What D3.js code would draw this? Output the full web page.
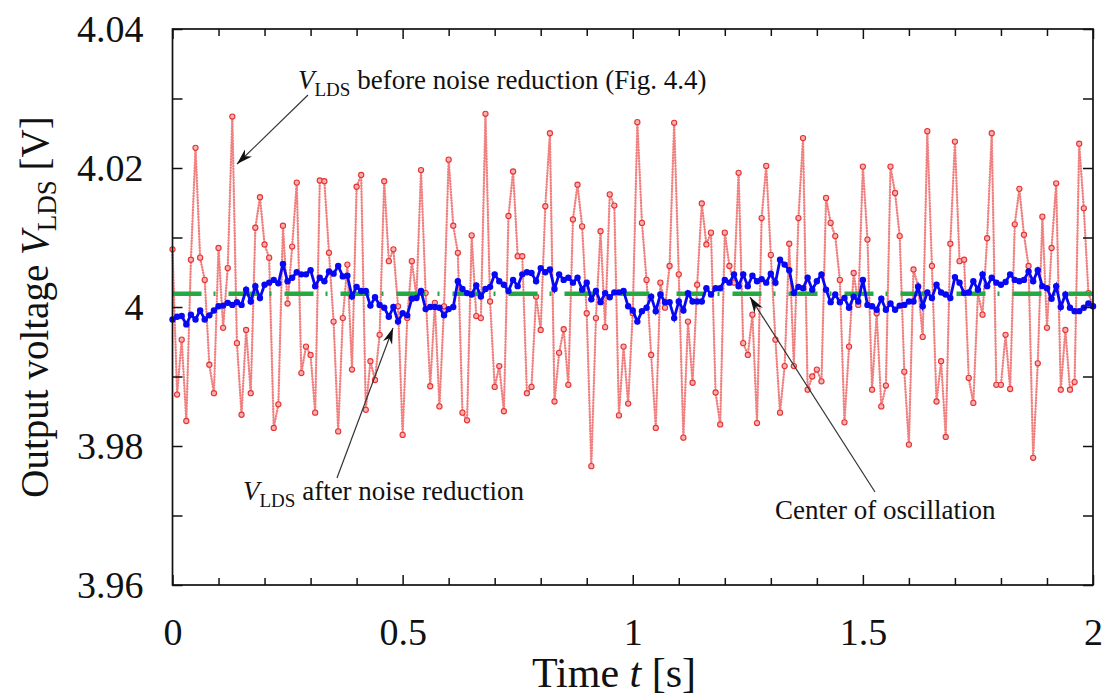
<!DOCTYPE html>
<html lang="en">
<head>
<meta charset="UTF-8">
<title>Output voltage V_LDS</title>
<script src="https://d3js.org/d3.v7.min.js"></script>
<style>
  body { margin: 0; background: #fff; }
  svg text { font-family: "Liberation Serif", "DejaVu Serif", serif; fill: #111; }
</style>
</head>
<body>
<script>
// sample step of both series [s]
const sampleStep = 0.01;

// V_LDS before noise reduction, t = 0.00 .. 2.00 s [V]
const rawVolts = [
  4.0083, 3.9874, 3.9953, 3.9836, 4.0068, 4.0229, 4.0071, 4.0039, 3.9917, 3.9876,
  4.0085, 3.9970, 4.0056, 4.0274, 3.9948, 3.9845, 3.9967, 3.9876, 4.0114, 4.0158,
  4.0090, 4.0071, 3.9826, 3.9860, 4.0117, 4.0005, 4.0087, 4.0179, 3.9905, 3.9943,
  3.9931, 3.9848, 4.0182, 4.0181, 4.0078, 3.9979, 3.9821, 3.9984, 4.0061, 3.9910,
  4.0173, 4.0190, 3.9852, 3.9922, 3.9895, 3.9960, 4.0181, 4.0066, 4.0083, 4.0001,
  3.9816, 3.9984, 4.0066, 4.0015, 4.0197, 4.0020, 3.9886, 4.0006, 3.9857, 4.0001,
  4.0212, 4.0117, 4.0078, 3.9848, 3.9837, 4.0103, 3.9987, 3.9984, 4.0278, 4.0008,
  3.9885, 3.9915, 3.9850, 4.0131, 4.0195, 4.0073, 4.0073, 3.9876, 3.9885, 4.0015,
  3.9967, 4.0145, 4.0250, 3.9864, 3.9934, 3.9968, 3.9888, 4.0126, 4.0176, 4.0116,
  3.9991, 3.9771, 3.9984, 4.0109, 3.9971, 4.0162, 4.0146, 3.9844, 3.9943, 3.9861,
  3.9991, 4.0266, 4.0121, 4.0039, 3.9931, 3.9826, 4.0035, 3.9999, 4.0059, 4.0265,
  4.0047, 3.9812, 3.9979, 3.9891, 4.0032, 4.0149, 4.0090, 4.0107, 3.9877, 3.9831,
  4.0107, 4.0059, 4.0035, 4.0193, 3.9948, 3.9931, 3.9989, 3.9833, 4.0128, 4.0203,
  4.0075, 3.9953, 3.9848, 3.9915, 4.0091, 3.9915, 4.0128, 4.0243, 3.9881, 3.9900,
  3.9910, 3.9893, 4.0157, 4.0121, 4.0102, 4.0039, 3.9834, 3.9943, 4.0049, 4.0003,
  4.0202, 4.0097, 3.9881, 3.9991, 3.9857, 3.9887, 4.0202, 4.0164, 4.0102, 3.9907,
  3.9802, 4.0054, 4.0030, 3.9957, 4.0253, 4.0059, 3.9864, 3.9922, 3.9813, 4.0091,
  4.0238, 4.0066, 4.0068, 3.9898, 3.9862, 4.0020, 3.9989, 4.0099, 4.0250, 3.9888,
  3.9888, 3.9960, 3.9882, 4.0119, 4.0170, 4.0104, 4.0059, 3.9783, 3.9919, 4.0130,
  3.9970, 4.0085, 4.0178, 3.9881, 3.9967, 3.9881, 3.9892, 4.0235, 4.0142, 4.0020,
  4.0001
];

// V_LDS after noise reduction, t = 0.00 .. 2.00 s [V]
const filteredVolts = [
  3.9982, 3.9986, 3.9987, 3.9975, 3.9989, 3.9982, 3.9995, 3.9982, 3.9988, 3.9995,
  4.0001, 4.0002, 4.0006, 4.0003, 4.0007, 4.0003, 4.0025, 4.0008, 4.0030, 4.0013,
  4.0032, 4.0035, 4.0039, 4.0034, 4.0062, 4.0037, 4.0042, 4.0050, 4.0047, 4.0047,
  4.0053, 4.0030, 4.0042, 4.0037, 4.0051, 4.0048, 4.0059, 4.0044, 4.0045, 4.0015,
  4.0029, 4.0023, 4.0023, 4.0002, 4.0014, 4.0003, 3.9999, 3.9986, 4.0000, 3.9979,
  3.9991, 3.9988, 4.0012, 4.0013, 4.0023, 3.9997, 4.0000, 4.0000, 3.9999, 3.9988,
  3.9997, 4.0000, 4.0037, 4.0026, 4.0020, 4.0018, 4.0031, 4.0015, 4.0026, 4.0029,
  4.0047, 4.0037, 4.0032, 4.0023, 4.0039, 4.0030, 4.0047, 4.0050, 4.0049, 4.0037,
  4.0056, 4.0050, 4.0054, 4.0026, 4.0047, 4.0039, 4.0042, 4.0035, 4.0042, 4.0025,
  4.0035, 4.0011, 4.0023, 4.0007, 4.0020, 4.0014, 4.0021, 4.0021, 4.0023, 4.0001,
  3.9995, 3.9979, 3.9994, 3.9999, 4.0015, 3.9994, 4.0018, 4.0007, 4.0007, 3.9984,
  4.0008, 3.9995, 4.0020, 4.0008, 4.0008, 4.0008, 4.0027, 4.0018, 4.0027, 4.0027,
  4.0039, 4.0035, 4.0047, 4.0030, 4.0047, 4.0030, 4.0045, 4.0037, 4.0040, 4.0035,
  4.0048, 4.0035, 4.0068, 4.0061, 4.0053, 4.0020, 4.0029, 4.0027, 4.0042, 4.0025,
  4.0037, 4.0047, 4.0025, 4.0007, 4.0018, 4.0007, 4.0013, 3.9999, 4.0015, 4.0008,
  4.0039, 4.0003, 4.0001, 3.9996, 4.0012, 3.9996, 4.0005, 3.9996, 4.0002, 4.0003,
  4.0008, 4.0008, 4.0029, 4.0001, 4.0021, 4.0013, 4.0032, 4.0021, 4.0018, 4.0013,
  4.0043, 4.0035, 4.0020, 4.0021, 4.0037, 4.0025, 4.0047, 4.0030, 4.0042, 4.0035,
  4.0032, 4.0036, 4.0047, 4.0039, 4.0037, 4.0039, 4.0051, 4.0037, 4.0053, 4.0030,
  4.0027, 4.0012, 4.0030, 4.0000, 4.0018, 3.9999, 3.9994, 3.9994, 3.9999, 4.0005,
  4.0001
];

// center of oscillation [V]
const centerVolt = 4.0019;

const timeTicks = [0, 0.5, 1, 1.5, 2];
const timeTickLabels = ["0", "0.5", "1", "1.5", "2"];
const timeMinorTicks = [0.1, 0.2, 0.3, 0.4, 0.6, 0.7, 0.8, 0.9, 1.1, 1.2, 1.3, 1.4, 1.6, 1.7, 1.8, 1.9];
const voltTicks = [3.96, 3.98, 4.00, 4.02, 4.04];
const voltTickLabels = ["3.96", "3.98", "4", "4.02", "4.04"];
const voltMinorTicks = [3.97, 3.99, 4.01, 4.03];

const width = 1104, height = 700;
const plotLeft = 172.5, plotRight = 1093, plotTop = 29, plotBottom = 585;

const svg = d3.select("body").append("svg")
  .attr("width", width)
  .attr("height", height);

const x = d3.scaleLinear().domain([0, 2]).range([plotLeft, plotRight]);
const y = d3.scaleLinear().domain([3.96, 4.04]).range([plotBottom, plotTop]);

const rawData = rawVolts.map((v, i) => ({ t: i * sampleStep, v: v }));
const filtData = filteredVolts.map((v, i) => ({ t: i * sampleStep, v: v }));

svg.append("defs").append("marker")
  .attr("id", "arrow")
  .attr("viewBox", "0 0 16 10")
  .attr("refX", 16).attr("refY", 5)
  .attr("markerWidth", 16).attr("markerHeight", 10)
  .attr("markerUnits", "userSpaceOnUse")
  .attr("orient", "auto")
  .append("path")
  .attr("d", "M0,0 L16,5 L0,10 L5,5 Z")
  .attr("fill", "#111");

const line = d3.line().x(d => x(d.t)).y(d => y(d.v));

// before noise reduction: dotted pink line + small red circles
svg.append("path")
  .datum(rawData)
  .attr("d", line)
  .attr("fill", "none")
  .attr("stroke", "#f5a5a5")
  .attr("stroke-width", 1);
svg.append("path")
  .datum(rawData)
  .attr("d", line)
  .attr("fill", "none")
  .attr("stroke", "#f07f7f")
  .attr("stroke-width", 2.4)
  .attr("stroke-linecap", "round")
  .attr("stroke-dasharray", "0.2,2.6");

svg.selectAll(".rawpt")
  .data(rawData)
  .enter().append("circle")
  .attr("class", "rawpt")
  .attr("cx", d => x(d.t))
  .attr("cy", d => y(d.v))
  .attr("r", 2.6)
  .attr("fill", "#f6b0b0")
  .attr("stroke", "#e63232")
  .attr("stroke-width", 1.1);

// center of oscillation
svg.append("line")
  .attr("x1", x(0)).attr("x2", x(2))
  .attr("y1", y(centerVolt)).attr("y2", y(centerVolt))
  .attr("stroke", "#26a843")
  .attr("stroke-width", 4.5)
  .attr("stroke-dasharray", "29,12,2,13");

// after noise reduction
svg.append("path")
  .datum(filtData)
  .attr("d", line)
  .attr("fill", "none")
  .attr("stroke", "#0808f2")
  .attr("stroke-width", 2.8);

svg.selectAll(".filtpt")
  .data(filtData)
  .enter().append("circle")
  .attr("class", "filtpt")
  .attr("cx", d => x(d.t))
  .attr("cy", d => y(d.v))
  .attr("r", 3.2)
  .attr("fill", "#0808f2");

// frame
svg.append("rect")
  .attr("x", plotLeft).attr("y", plotTop)
  .attr("width", plotRight - plotLeft).attr("height", plotBottom - plotTop)
  .attr("fill", "none")
  .attr("stroke", "#111")
  .attr("stroke-width", 1.7);

// axes with inward ticks
function styleAxis(g) {
  g.select(".domain").remove();
  g.selectAll("line").attr("stroke", "#111").attr("stroke-width", 1.5);
  g.selectAll("text")
    .style("font-family", "'Liberation Serif', serif")
    .style("font-size", "38px")
    .attr("fill", "#111");
}

svg.append("g")
  .attr("transform", `translate(0,${plotBottom})`)
  .call(d3.axisBottom(x).tickValues(timeTicks)
    .tickFormat((d, i) => timeTickLabels[i]).tickSize(-10).tickPadding(33))
  .call(styleAxis);
svg.append("g")
  .attr("transform", `translate(0,${plotBottom})`)
  .call(d3.axisBottom(x).tickValues(timeMinorTicks).tickFormat("").tickSize(-7))
  .call(styleAxis);
svg.append("g")
  .attr("transform", `translate(0,${plotTop})`)
  .call(d3.axisTop(x).tickValues(timeTicks).tickFormat("").tickSize(-10))
  .call(styleAxis);
svg.append("g")
  .attr("transform", `translate(0,${plotTop})`)
  .call(d3.axisTop(x).tickValues(timeMinorTicks).tickFormat("").tickSize(-7))
  .call(styleAxis);

svg.append("g")
  .attr("transform", `translate(${plotLeft},0)`)
  .call(d3.axisLeft(y).tickValues(voltTicks)
    .tickFormat((d, i) => voltTickLabels[i]).tickSize(-10).tickPadding(29))
  .call(styleAxis);
svg.append("g")
  .attr("transform", `translate(${plotLeft},0)`)
  .call(d3.axisLeft(y).tickValues(voltMinorTicks).tickFormat("").tickSize(-10))
  .call(styleAxis);
svg.append("g")
  .attr("transform", `translate(${plotRight},0)`)
  .call(d3.axisRight(y).tickValues(voltTicks.concat(voltMinorTicks)).tickFormat("").tickSize(-10))
  .call(styleAxis);

// axis titles
const xTitle = svg.append("text")
  .attr("x", 614).attr("y", 687)
  .attr("text-anchor", "middle")
  .style("font-size", "42px");
xTitle.append("tspan").text("Time ");
xTitle.append("tspan").attr("font-style", "italic").text("t");
xTitle.append("tspan").text(" [s]");

const yTitle = svg.append("text")
  .attr("transform", `translate(48,${(plotTop + plotBottom) / 2}) rotate(-90)`)
  .attr("text-anchor", "middle")
  .style("font-size", "39px");
yTitle.append("tspan").text("Output voltage ");
yTitle.append("tspan").attr("font-style", "italic").text("V");
yTitle.append("tspan").attr("dy", 8).style("font-size", "27px").text("LDS");
yTitle.append("tspan").attr("dy", -8).text(" [V]");

// annotations
function vlds(sel, rest) {
  sel.append("tspan").attr("font-style", "italic").text("V");
  sel.append("tspan").attr("dy", 7).style("font-size", "19px").text("LDS");
  sel.append("tspan").attr("dy", -7).text(rest);
}

svg.append("text").attr("x", 298).attr("y", 89)
  .style("font-size", "27px")
  .call(vlds, " before noise reduction (Fig. 4.4)");
svg.append("text").attr("x", 243).attr("y", 500)
  .style("font-size", "27px")
  .call(vlds, " after noise reduction");
svg.append("text").attr("x", 775).attr("y", 519)
  .style("font-size", "27px")
  .text("Center of oscillation");

const arrows = [
  { x1: 308, y1: 95, x2: 237, y2: 164 },
  { x1: 337, y1: 478, x2: 393, y2: 328 },
  { x1: 875, y1: 492, x2: 750, y2: 297 }
];
svg.selectAll(".arrow")
  .data(arrows)
  .enter().append("line")
  .attr("class", "arrow")
  .attr("x1", d => d.x1).attr("y1", d => d.y1)
  .attr("x2", d => d.x2).attr("y2", d => d.y2)
  .attr("stroke", "#333")
  .attr("stroke-width", 1.2)
  .attr("marker-end", "url(#arrow)");
</script>
</body>
</html>
